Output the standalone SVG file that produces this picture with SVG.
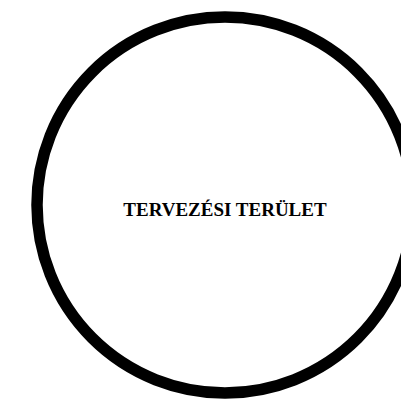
<svg xmlns="http://www.w3.org/2000/svg" width="401" height="399" viewBox="0 0 401 399">
<style>
.b{fill:none;stroke:#000;stroke-width:11.5}
.t{font-family:"Liberation Serif","Times New Roman",serif;font-weight:bold;font-size:19px;fill:#000}
</style>
<rect width="401" height="399" fill="#fff"/>
<g id="terulet">
<circle class="b" cx="225" cy="205" r="188"/>
<text class="t" x="225" y="216" text-anchor="middle">TERVEZÉSI TERÜLET</text>
</g>
</svg>
